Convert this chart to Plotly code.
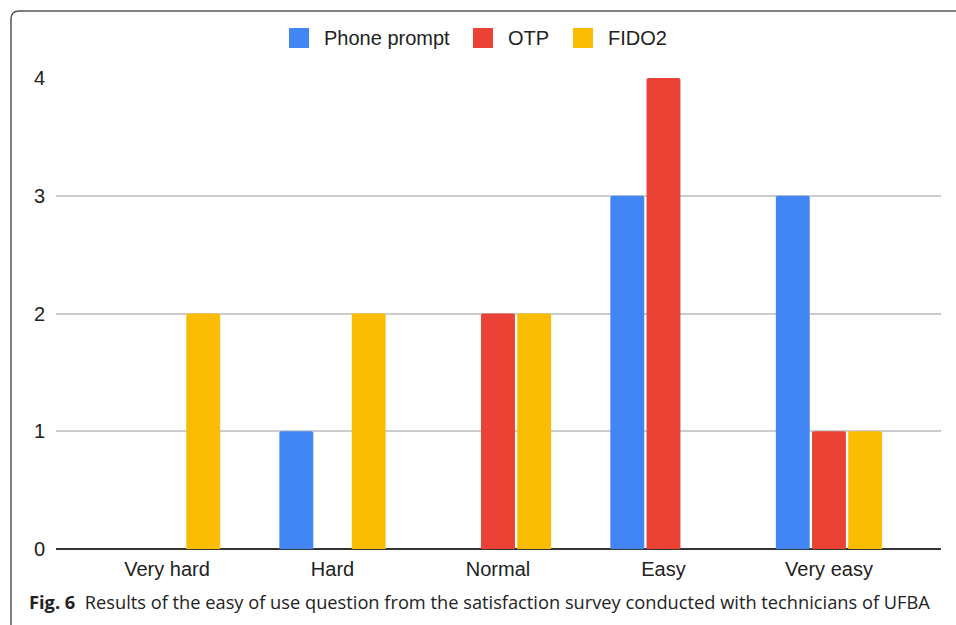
import plotly.graph_objects as go

categories = ["Very hard", "Hard", "Normal", "Easy", "Very easy"]
phone_prompt = [0, 1, 0, 3, 3]
otp = [0, 0, 2, 4, 1]
fido2 = [2, 2, 2, 0, 1]
series_names = ["Phone prompt", "OTP", "FIDO2"]
series_colors = ["#4285F4", "#EA4335", "#FBBC04"]
y_ticks = [0, 1, 2, 3, 4]
caption_bold = "Fig. 6"
caption_text = "Results of the easy of use question from the satisfaction survey conducted with technicians of UFBA"

W, H = 956, 625
L, R, T, B = 56, 15, 78, 76
pw, ph = W - L - R, H - T - B

def px_x(x):
    return (x - L) / pw

def px_y(y):
    return (H - B - y) / ph

fig = go.Figure()
for name, vals, col in zip(series_names, [phone_prompt, otp, fido2], series_colors):
    fig.add_trace(go.Bar(
        x=categories, y=vals, name=name,
        marker=dict(color=col, line=dict(width=0), cornerradius=2),
    ))

# outer frame (top-left rounded corner, continues past right and bottom edges)
x0, y0 = px_x(11), px_y(11)
x1, y1 = px_x(970), px_y(640)
rx, ry = 8 / pw, 8 / ph
path = (f"M {x1},{y0} L {x0+rx},{y0} Q {x0},{y0} {x0},{y0-ry} L {x0},{y1}")
fig.add_shape(type="path", path=path, xref="paper", yref="paper",
              line=dict(color="#555555", width=1.5), layer="above")

# custom legend (large square swatches)
legend_sq_x = [289, 473, 573]
legend_txt_x = [322, 506, 606]
sq = 20
legend_cy = 38
for name, col, sx, tx in zip(series_names, series_colors, legend_sq_x, legend_txt_x):
    fig.add_shape(type="rect", xref="paper", yref="paper",
                  x0=px_x(sx), x1=px_x(sx + sq),
                  y0=px_y(legend_cy + sq / 2), y1=px_y(legend_cy - sq / 2),
                  fillcolor=col, line=dict(width=0))
    fig.add_annotation(text=name, xref="paper", yref="paper",
                       x=px_x(tx), y=px_y(legend_cy), xanchor="left", yanchor="middle",
                       showarrow=False,
                       font=dict(family="Arial", size=20, color="#222222"))

fig.add_annotation(
    text=f"<b>{caption_bold}</b>\u00a0\u00a0{caption_text}",
    xref="paper", yref="paper", x=px_x(27), y=px_y(601),
    xanchor="left", yanchor="middle", showarrow=False,
    font=dict(family="Open Sans", size=18.25, color="#222222"),
)

fig.update_layout(
    width=W, height=H,
    margin=dict(l=L, r=R, t=T, b=B, pad=0),
    paper_bgcolor="white", plot_bgcolor="white",
    barmode="group", bargap=0.344, bargroupgap=0.063,
    font=dict(family="Arial", size=20, color="#222222"),
    showlegend=False,
    xaxis=dict(range=[-0.671, 4.677], showgrid=False, showline=False,
               ticks="", ticklabelstandoff=6,
               tickfont=dict(size=20, color="#222222"), zeroline=False),
    yaxis=dict(range=[0, 4], tickvals=y_ticks, showgrid=True, gridcolor="#cccccc",
               gridwidth=1.5, zeroline=True, zerolinecolor="#333333", zerolinewidth=1.5,
               showline=False, ticks="", ticklabelstandoff=10,
               tickfont=dict(size=20, color="#222222")),
)

fig.write_html("out.html", config={"displayModeBar": False},
               post_script="document.body.style.margin='0';")
